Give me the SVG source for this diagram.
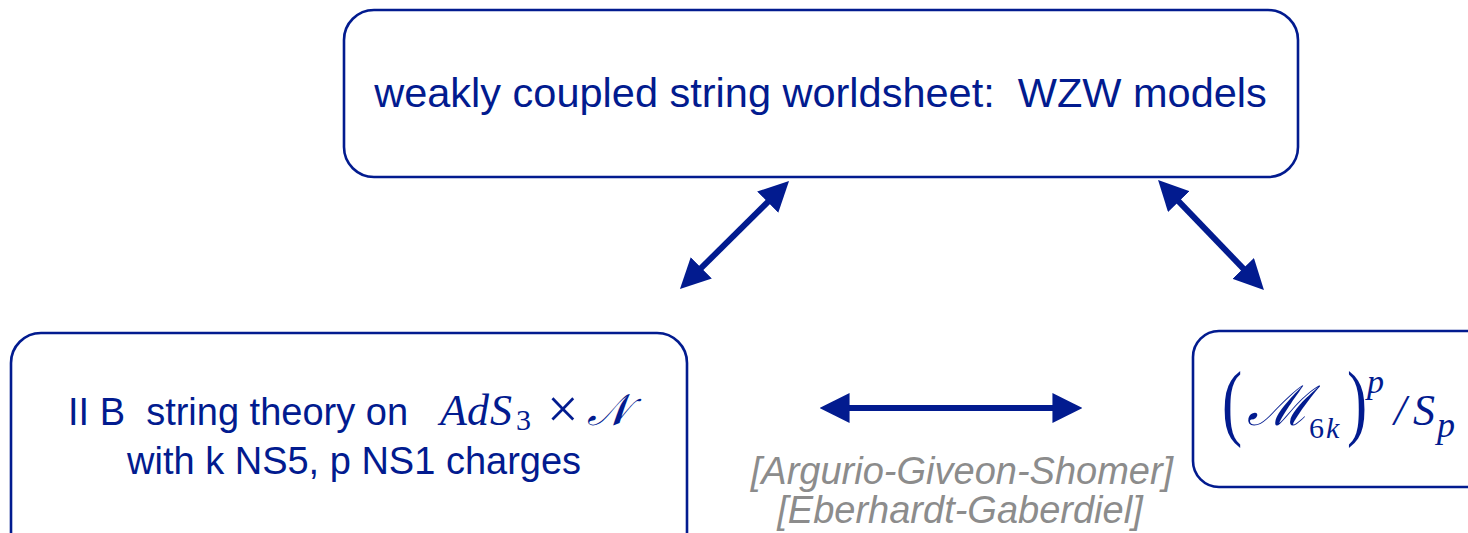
<svg xmlns="http://www.w3.org/2000/svg" width="1468" height="533" viewBox="0 0 1468 533">
<style>
.box{fill:#fff;stroke:#021B8F;stroke-width:2.6}
.sans{font-family:"Liberation Sans",Arial,sans-serif;fill:#021B8F;white-space:pre}
.math{font-family:"Liberation Serif","DejaVu Serif",serif;fill:#021B8F;white-space:pre}
.it{font-style:italic}
.cite{font-family:"Liberation Sans",Arial,sans-serif;font-style:italic;fill:#8C8C8C;font-size:38px;text-anchor:middle}
.conn{stroke:#021B8F;stroke-width:6;fill:none;marker-start:url(#ah);marker-end:url(#ah)}
</style>
<defs>
<marker id="ah" markerUnits="userSpaceOnUse" markerWidth="30" markerHeight="30" refX="8" refY="14" orient="auto-start-reverse" viewBox="0 0 28 28">
<path d="M0,0 L28,14 L0,28 z" fill="#021B8F"/>
</marker>
</defs>
<rect width="1468" height="533" fill="#fff"/>
<g id="node-top">
<rect class="box" x="344" y="10" width="954" height="167" rx="30"/>
<text class="sans" x="820.5" y="107" font-size="41.5" text-anchor="middle">weakly coupled string worldsheet:  WZW models</text>
</g>
<g id="node-left">
<rect class="box" x="11" y="333" width="676" height="230" rx="30"/>
<text class="sans" x="68" y="425" font-size="38">II B  string theory on</text>
<text class="math it" x="440 467 490" y="425" font-size="44">AdS</text>
<text class="math" x="516" y="430" font-size="30">3</text>
<text class="math" x="547" y="428" font-size="56">×</text>
<text class="math it" x="587" y="425" font-size="44">𝒩</text>
<text class="sans" x="127" y="474" font-size="38">with k NS5, p NS1 charges</text>
</g>
<g id="node-right">
<rect class="box" x="1193" y="331" width="320" height="156" rx="26"/>
<text class="math" transform="translate(1222,430) scale(0.72,1)" font-size="84">(</text>
<text class="math it" x="1247" y="425" font-size="55">ℳ</text>
<text class="math" x="1309" y="438" font-size="30">6</text>
<text class="math it" x="1326" y="438" font-size="30">k</text>
<text class="math" transform="translate(1347,430) scale(0.72,1)" font-size="84">)</text>
<text class="math it" x="1367" y="393" font-size="34">p</text>
<text class="math it" x="1394" y="425" font-size="44">/</text>
<text class="math it" x="1413" y="425" font-size="44">S</text>
<text class="math it" x="1437" y="437" font-size="36">p</text>
</g>
<g id="connectors">
<path class="conn" d="M695.2,273.9 L773.8,196.1"/>
<path class="conn" d="M1172.9,195.4 L1249.1,274.6"/>
<path class="conn" d="M841,408 L1061,408"/>
</g>
<g id="citations">
<text class="cite" x="962" y="484">[Argurio-Giveon-Shomer]</text>
<text class="cite" x="960" y="523">[Eberhardt-Gaberdiel]</text>
</g>
</svg>
